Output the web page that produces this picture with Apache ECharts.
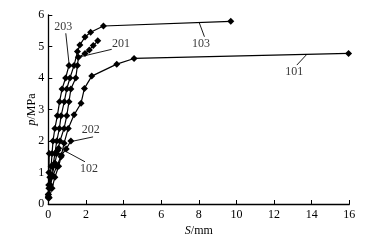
<!DOCTYPE html>
<html><head><meta charset="utf-8">
<script src="https://cdn.jsdelivr.net/npm/echarts@6/dist/echarts.min.js"></script>
<style>html,body{margin:0;padding:0;background:#fff}#c{width:375px;height:249px}</style>
</head><body><div id="c"></div>
<script>
// Series data: [S (mm), p (MPa)]
const s203 = [[0,0.2],[0.03,0.5],[0.08,0.85],[0.15,1.2],[0.2,1.6],[0.25,2.0],[0.35,2.4],[0.48,2.8],[0.6,3.25],[0.73,3.65],[0.92,4.0],[1.1,4.4]];
const s103 = [[0,0.25],[0.08,0.5],[0.15,0.85],[0.25,1.2],[0.35,1.6],[0.45,2.0],[0.59,2.4],[0.68,2.8],[0.85,3.25],[0.98,3.65],[1.15,4.0],[1.37,4.4],[1.55,4.84],[1.68,5.05],[1.95,5.3],[2.25,5.45],[2.93,5.65],[9.7,5.8]];
const s201 = [[0,0.3],[0.1,0.6],[0.2,0.9],[0.35,1.3],[0.5,1.7],[0.62,2.0],[0.84,2.4],[0.98,2.8],[1.1,3.25],[1.2,3.65],[1.46,4.0],[1.55,4.4],[1.6,4.66],[1.95,4.78],[2.18,4.89],[2.39,5.03],[2.63,5.18]];
const s101 = [[0.05,0.2],[0.2,0.5],[0.35,0.85],[0.55,1.2],[0.68,1.5],[0.84,1.93],[1.06,2.4],[1.37,2.83],[1.74,3.2],[1.92,3.67],[2.31,4.06],[3.64,4.44],[4.56,4.62],[15.96,4.78]];
const s202 = [[0,0.3],[0.1,0.6],[0.25,0.9],[0.45,1.2],[0.7,1.55],[0.95,1.75],[1.2,2.0]];
const s102 = [[0,0.2],[0.02,0.6],[0.03,1.0],[0.05,1.6],[0.45,1.6],[0.55,1.77]];
// Annotations (data coords): leader start, leader end, text position
const labelNames = ['203','201','103','101','202','102'];
const leaderStart = [[1.1,4.47],[1.6,4.66],[8.02,5.76],[13.74,4.75],[1.19,1.98],[0.71,1.74]];
const leaderEnd = [[0.93,5.42],[3.37,4.91],[8.3,5.31],[13.21,4.41],[2.38,2.13],[1.95,1.34]];
const labelPos = [[0.8,5.63],[3.87,5.1],[8.12,5.1],[13.07,4.19],[2.26,2.37],[2.17,1.13]];
const xTicks = [0,2,4,6,8,10,12,14,16];
const yTicks = [0,1,2,3,4,5,6];

const font = 'Liberation Serif';
const curves = [s203,s103,s201,s101,s202,s102];
const series = curves.map(d => ({
  type:'line', data:d, symbol:'diamond', symbolSize:7,
  lineStyle:{color:'#000',width:1.2}, itemStyle:{color:'#000'}, animation:false
}));
labelNames.forEach((n,i)=>{
  series.push({type:'line', data:[leaderStart[i],leaderEnd[i]], symbol:'none',
    lineStyle:{color:'#000',width:0.9}, animation:false, silent:true});
});
series.push({type:'scatter', symbolSize:0, animation:false, silent:true,
  data: labelPos.map((p,i)=>({value:p, name:labelNames[i]})),
  label:{show:true, position:'inside', formatter:p=>p.name, color:'#000', fontFamily:font, fontSize:12}
});

const chart = echarts.init(document.getElementById('c'));
chart.setOption({
  animation:false,
  grid:{left:48.3, right:25.7, top:15, bottom:45},
  xAxis:{type:'value', min:xTicks[0], max:xTicks[xTicks.length-1], interval:2,
    axisLine:{lineStyle:{color:'#000',width:1.3}},
    axisTick:{inside:true, length:4, lineStyle:{color:'#000'}},
    axisLabel:{color:'#000', fontFamily:font, fontSize:12, margin:5},
    splitLine:{show:false},
    name:'{i|S}{n|/mm}', nameLocation:'middle', nameGap:21, nameMoveOverlap:false,
    nameTextStyle:{color:'#000', fontFamily:font, fontSize:12, rich:{i:{fontStyle:'italic', fontFamily:font, fontSize:12, color:'#000'}, n:{fontFamily:font, fontSize:12, color:'#000'}}}
  },
  yAxis:{type:'value', min:yTicks[0], max:yTicks[yTicks.length-1], interval:1,
    axisLine:{show:true, lineStyle:{color:'#000',width:1.3}},
    axisTick:{show:true, inside:true, length:4, lineStyle:{color:'#000'}},
    axisLabel:{color:'#000', fontFamily:font, fontSize:12, margin:4},
    splitLine:{show:false},
    name:'{i|p}{n|/MPa}', nameLocation:'middle', nameGap:10, nameRotate:90, nameMoveOverlap:false,
    nameTextStyle:{color:'#000', fontFamily:font, fontSize:12, rich:{i:{fontStyle:'italic', fontFamily:font, fontSize:12, color:'#000'}, n:{fontFamily:font, fontSize:12, color:'#000'}}}
  },
  series:series
});
</script></body></html>
